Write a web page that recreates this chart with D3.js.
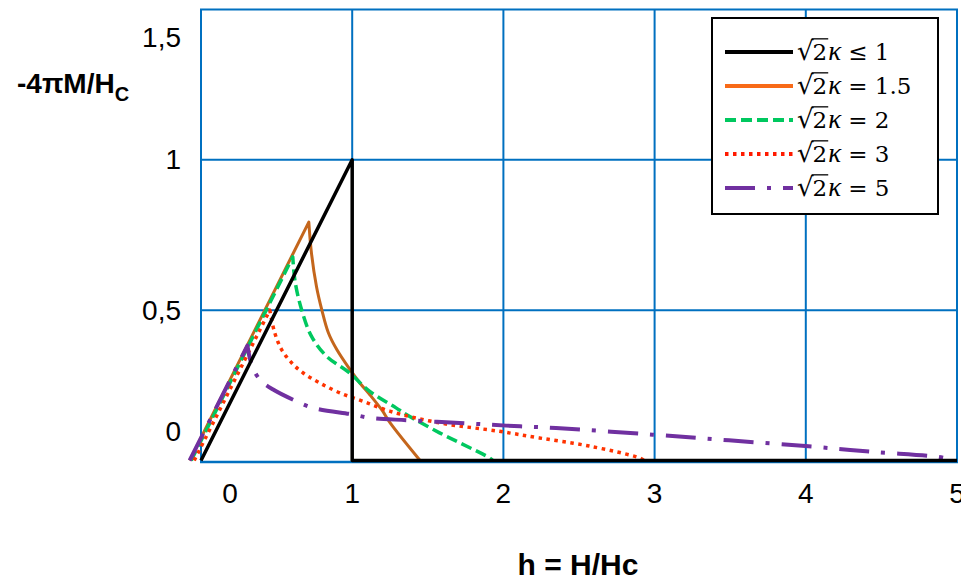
<!DOCTYPE html>
<html>
<head>
<meta charset="utf-8">
<script src="https://cdn.jsdelivr.net/npm/d3@7"></script>
<style>
  html, body { margin: 0; padding: 0; background: #fff; }
  svg { display: block; }
</style>
</head>
<body>
<svg id="chart" width="961" height="582"></svg>
<script>
// Axis ticks
const xTicks = [0, 1, 2, 3, 4, 5];
const xTickText = ["0", "1", "2", "3", "4", "5"];
const yTicks = [0, 0.5, 1, 1.5];
const yTickText = ["0", "0,5", "1", "1,5"];

// Legend relations for √2κ
const seriesRelations = ["≤ 1", "= 1.5", "= 2", "= 3", "= 5"];

// √2κ ≤ 1 : type I
const hK1 = [0, 1, 1, 5];
const mK1 = [0, 1, 0, 0];

// √2κ = 1.5
const hK15 = [-0.075, 0.713, 0.731, 0.764, 0.799, 0.843, 0.898, 0.986, 1.052, 1.118, 1.196, 1.251, 1.449];
const mK15 = [0, 0.793, 0.688, 0.578, 0.501, 0.424, 0.369, 0.302, 0.257, 0.218, 0.168, 0.125, 0];

// √2κ = 2
const hK2 = [-0.065, 0.607, 0.622, 0.665, 0.731, 0.83, 0.983, 1.116, 1.29, 1.358, 1.578, 1.908, 1.93];
const mK2 = [0, 0.677, 0.596, 0.502, 0.413, 0.347, 0.291, 0.23, 0.175, 0.153, 0.092, 0.009, 0];

// √2κ = 3
const hK3 = [-0.045, 0.455, 0.488, 0.533, 0.599, 0.676, 0.785, 0.918, 1.071, 1.248, 1.578, 1.974, 2.238, 2.568, 2.898, 2.93];
const mK3 = [0, 0.50, 0.424, 0.369, 0.325, 0.291, 0.258, 0.225, 0.197, 0.164, 0.125, 0.097, 0.075, 0.048, 0.009, 0];

// √2κ = 5
const hK5 = [-0.075, 0.307, 0.335, 0.389, 0.477, 0.632, 0.742, 1.005, 1.116, 1.358, 1.71, 2.018, 2.348, 2.986, 3.492, 3.998, 4.438, 4.878, 4.95];
const mK5 = [0, 0.382, 0.319, 0.269, 0.236, 0.197, 0.175, 0.153, 0.142, 0.134, 0.125, 0.116, 0.108, 0.086, 0.067, 0.048, 0.029, 0.012, 0.004];

const seriesH = [hK1, hK15, hK2, hK3, hK5];
const seriesM = [mK1, mK15, mK2, mK3, mK5];

// Visual styles per series (same order as above)
const styles = [
  { color: "#000000", legendColor: "#000000", width: 3.5, dash: null },
  { color: "#C4661C", legendColor: "#F86A18", width: 3, dash: null },
  { color: "#00C85F", legendColor: "#00C85F", width: 3.5, dash: "11,5" },
  { color: "#FF3300", legendColor: "#FF1A00", width: 3.5, dash: "3.5,4.5" },
  { color: "#7030A0", legendColor: "#7030A0", width: 4, dash: "30,12,4,12" }
];

const svg = d3.select("#chart");
const gridBlue = "#0070C0";

const x = d3.scaleLinear().domain([0, 5]).range([201, 957]);
const y = d3.scaleLinear().domain([0, 1.5]).range([460.5, 9.5]);

// Grid lines
const grid = svg.append("g");
grid.selectAll("line.v").data(xTicks).join("line")
  .attr("x1", d => x(d)).attr("x2", d => x(d))
  .attr("y1", y(1.5)).attr("y2", y(0) + 1.5)
  .attr("stroke", gridBlue).attr("stroke-width", 2);
grid.selectAll("line.h").data(yTicks).join("line")
  .attr("x1", x(0) - 1).attr("x2", x(5) + 1)
  .attr("y1", d => d === 0 ? y(d) + 1.5 : y(d)).attr("y2", d => d === 0 ? y(d) + 1.5 : y(d))
  .attr("stroke", gridBlue).attr("stroke-width", d => d === 0 ? 2.5 : 2);

// Tick labels
const tickFont = "'Liberation Sans', Arial, sans-serif";
svg.append("g").selectAll("text").data(xTicks).join("text")
  .attr("x", d => Math.max(x(d), x(0) + 29))
  .attr("y", 493)
  .attr("text-anchor", "middle")
  .attr("dominant-baseline", "central")
  .attr("font-family", tickFont).attr("font-size", 28)
  .attr("fill", "#000")
  .text((d, i) => xTickText[i]);

svg.append("g").selectAll("text").data(yTicks).join("text")
  .attr("x", 181)
  .attr("y", d => Math.min(Math.max(y(d), y(1.5) + 28), y(0) - 29))
  .attr("text-anchor", "end")
  .attr("dominant-baseline", "central")
  .attr("font-family", tickFont).attr("font-size", 28)
  .attr("fill", "#000")
  .text((d, i) => yTickText[i]);

// Axis titles
const yTitle = svg.append("text")
  .attr("x", 17).attr("y", 93)
  .attr("font-family", tickFont).attr("font-size", 28).attr("font-weight", "bold")
  .attr("fill", "#000");
yTitle.append("tspan").text("-4πM/H");
yTitle.append("tspan").attr("font-size", 20).attr("dy", 8).text("C");

svg.append("text")
  .attr("x", 578).attr("y", 575)
  .attr("text-anchor", "middle")
  .attr("font-family", tickFont).attr("font-size", 30).attr("font-weight", "bold")
  .attr("fill", "#000")
  .text("h = H/Hc");

// Curves: straight Meissner rise to the peak, smooth decay after it
const rise = d3.line().x(d => x(d[0])).y(d => y(d[1]));
const decay = d3.line().x(d => x(d[0])).y(d => y(d[1])).curve(d3.curveCatmullRom.alpha(0.5));
const drawOrder = [1, 2, 3, 4, 0];
const curves = svg.append("g");
drawOrder.forEach(i => {
  const pts = seriesH[i].map((h, k) => [h, seriesM[i][k]]);
  const s = styles[i];
  let d;
  if (i === 0) {
    d = rise(pts);
  } else {
    const head = rise(pts.slice(0, 2));
    const tail = decay(pts.slice(1));
    d = head + "L" + tail.slice(1);
  }
  curves.append("path")
    .attr("d", d)
    .attr("fill", "none")
    .attr("stroke", s.color)
    .attr("stroke-width", s.width)
    .attr("stroke-linejoin", "round")
    .attr("stroke-dasharray", s.dash);
});

// Legend
const legend = svg.append("g");
legend.append("rect")
  .attr("x", 712).attr("y", 18).attr("width", 226).attr("height", 196)
  .attr("fill", "#fff").attr("stroke", "#000").attr("stroke-width", 2);

const legFont = "'DejaVu Serif', 'Liberation Serif', serif";
const legSize = 23;
seriesRelations.forEach((rel, i) => {
  const yc = 52 + i * 34;
  const s = styles[i];
  legend.append("line")
    .attr("x1", 725).attr("x2", 793)
    .attr("y1", yc).attr("y2", yc)
    .attr("stroke", s.legendColor).attr("stroke-width", 4)
    .attr("stroke-dasharray", s.dash ? s.dash : null);

  const base = yc + 8;
  let cx = 797;
  const rad = legend.append("text").attr("x", cx).attr("y", base)
    .attr("font-family", legFont).attr("font-size", legSize + 3).text("√");
  cx += rad.node().getComputedTextLength() - 1;
  const two = legend.append("text").attr("x", cx).attr("y", base)
    .attr("font-family", legFont).attr("font-size", legSize).text("2");
  const twoW = two.node().getComputedTextLength();
  legend.append("line")
    .attr("x1", cx - 1).attr("x2", cx + twoW + 1)
    .attr("y1", base - legSize * 0.92).attr("y2", base - legSize * 0.92)
    .attr("stroke", "#000").attr("stroke-width", 1.3);
  cx += twoW + 1;
  const kap = legend.append("text").attr("x", cx).attr("y", base)
    .attr("font-family", "'Liberation Serif', serif").attr("font-size", legSize + 4)
    .attr("font-style", "italic").text("κ");
  cx += kap.node().getComputedTextLength() + 7;
  legend.append("text").attr("x", cx).attr("y", base)
    .attr("font-family", legFont).attr("font-size", legSize)
    .attr("xml:space", "preserve").text(rel);
});
</script>
</body>
</html>
